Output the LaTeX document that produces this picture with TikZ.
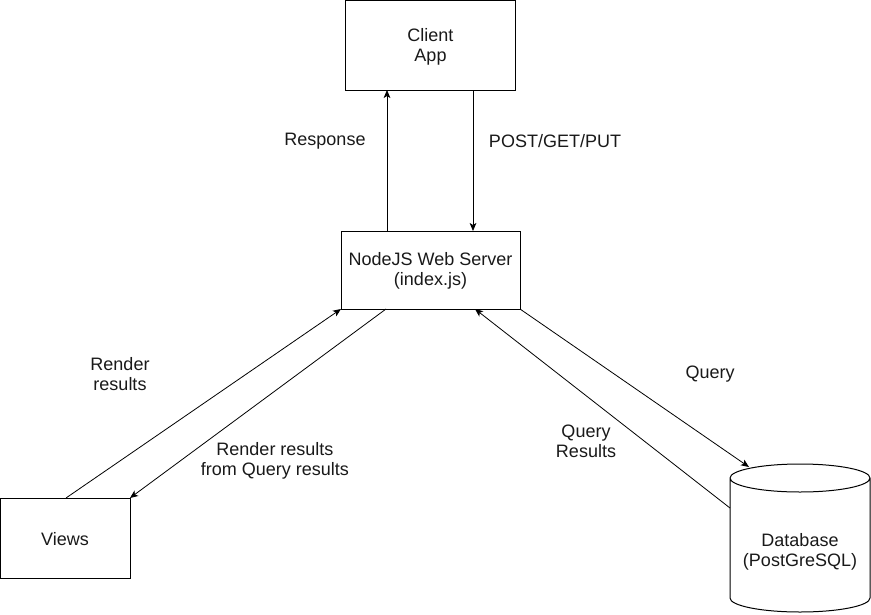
\documentclass[tikz,border=0pt]{standalone}
\usepackage{fontspec}
\setmainfont{Liberation Sans}
\usetikzlibrary{arrows.meta}
\begin{document}
\begin{tikzpicture}[x=0.75pt,y=-0.75pt,
  font=\fontsize{13.5pt}{15pt}\selectfont,
  conn/.style={line width=0.6pt,-{Stealth[length=6pt,width=5pt,inset=1.5pt]}},
  lbl/.style={align=center,inner sep=0pt,text=black!90}]
\useasboundingbox (0,0) rectangle (871,614);
% boxes
\draw[line width=0.75pt] (345.5,0.5) rectangle (515.5,90);
\node[lbl] (client) at (430.5,47) {Client\\App};
\coordinate (clientL) at (387,90);
\coordinate (clientR) at (473,90);
\draw[line width=0.75pt] (341,231) rectangle (520,309);
\node[lbl] (server) at (430.5,271) {NodeJS Web Server\\(index.js)};
\coordinate (srvTL) at (387,231);
\coordinate (srvTR) at (473,231);
\coordinate (srvBL) at (341,309);
\coordinate (srvBL2) at (386,309);
\coordinate (srvBR) at (520,309);
\coordinate (srvBR2) at (475,309);
\draw[line width=0.75pt] (0.5,498) rectangle (130,578);
\node[lbl] (views) at (65,539) {Views};
\coordinate (viewsT) at (66,498);
\coordinate (viewsTR) at (130,498);
% database cylinder
\draw[line width=0.75pt] (730,478) arc[start angle=180,end angle=0,x radius=70,y radius=14]
  arc[start angle=0,end angle=-180,x radius=70,y radius=14]
  -- (730,598) arc[start angle=180,end angle=0,x radius=70,y radius=14] -- (870,478);
\node[lbl] (db) at (800,552) {Database\\(PostGreSQL)};
\coordinate (dbTop) at (749,467);
\coordinate (dbSide) at (730,508);
% connectors
\draw[conn] (srvTL) -- (clientL);
\draw[conn] (clientR) -- (srvTR);
\draw[conn] (viewsT) -- (srvBL);
\draw[conn] (srvBL2) -- (viewsTR);
\draw[conn] (srvBR) -- (dbTop);
\draw[conn] (dbSide) -- (srvBR2);
% labels
\node[lbl] (lresp) at (325,141) {Response};
\node[lbl] (lpost) at (555,141) {POST/GET/PUT};
\node[lbl] (lrender) at (120,374) {Render\\results};
\node[lbl] (lrender2) at (275,461) {Render results\\from Query results};
\node[lbl] (lquery) at (710,374) {Query};
\node[lbl] (lqres) at (586,441) {Query\\Results};
\end{tikzpicture}
\end{document}
